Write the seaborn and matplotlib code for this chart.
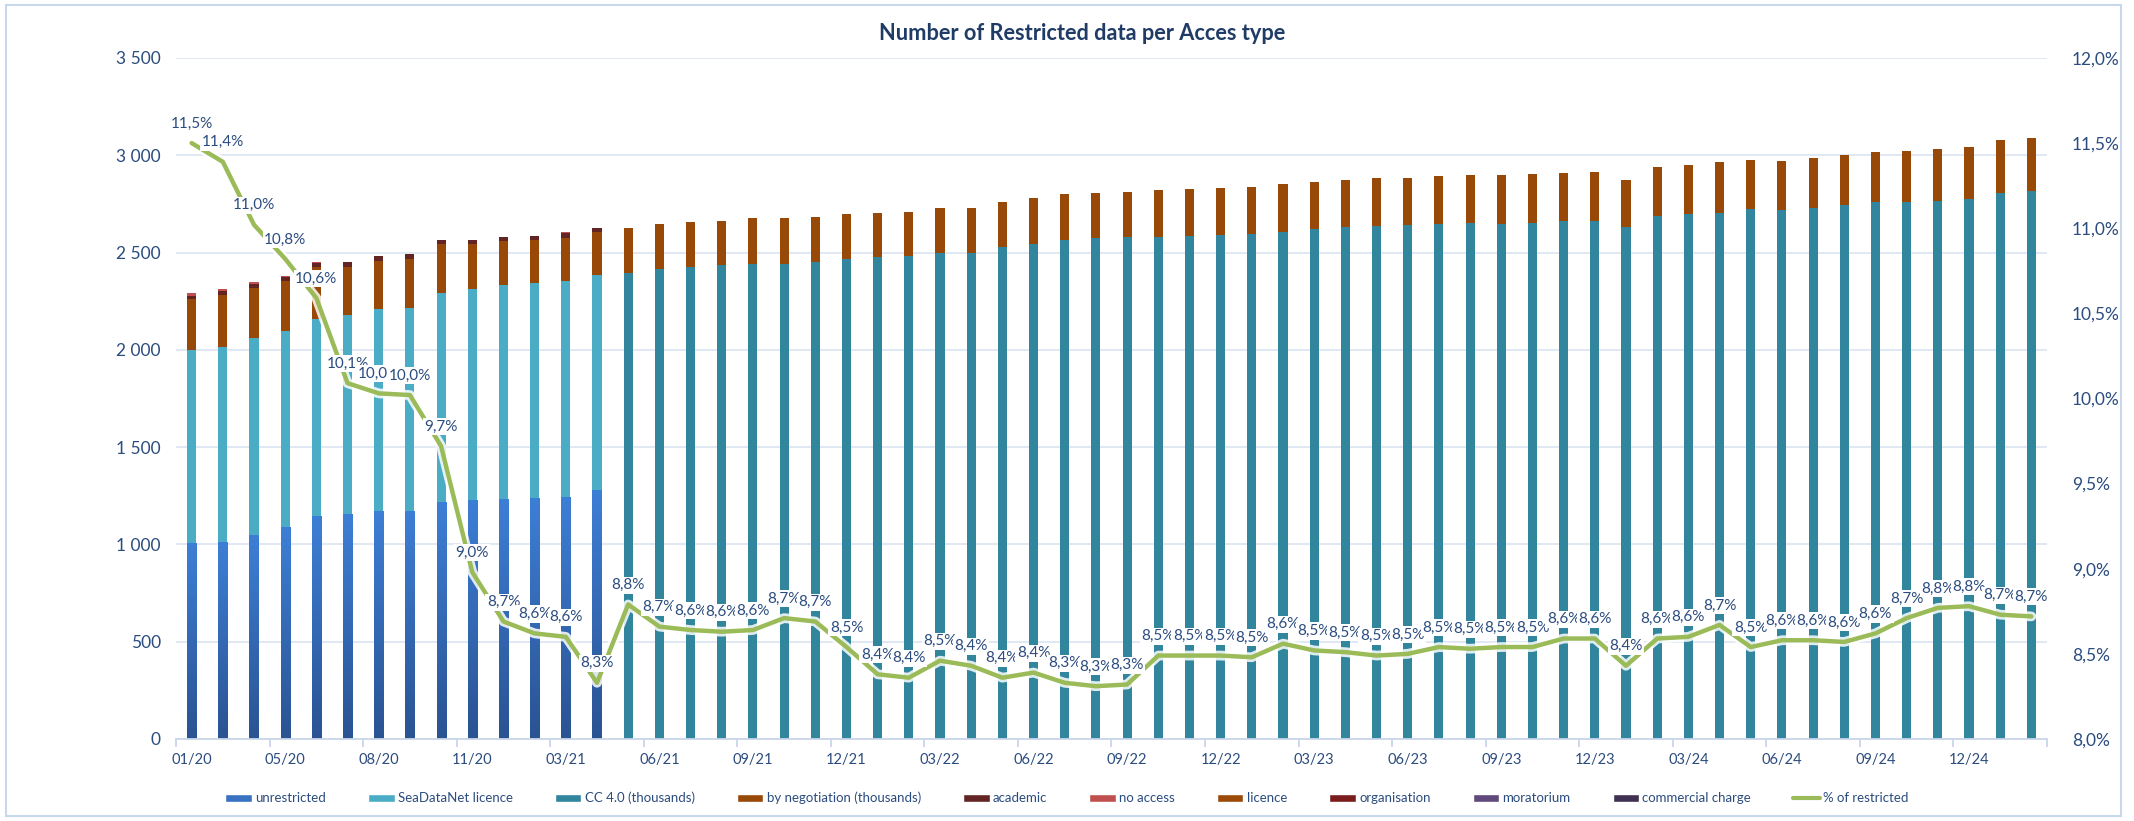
import matplotlib
matplotlib.use('Agg')
import matplotlib.pyplot as plt
import matplotlib.patheffects as pe
from matplotlib.colors import LinearSegmentedColormap
from matplotlib.patches import Patch, Rectangle
from matplotlib.lines import Line2D
from matplotlib.ticker import FuncFormatter, FixedLocator
import numpy as np
import seaborn as sns

sns.set_theme(style='white')
plt.rcParams['font.family'] = ['Lato', 'DejaVu Sans']

months = ["01/20", "02/20", "03/20", "05/20", "06/20", "07/20", "08/20", "09/20", "10/20", "11/20",
          "12/20", "02/21", "03/21", "04/21", "05/21", "06/21", "07/21", "08/21", "09/21", "10/21",
          "11/21", "12/21", "01/22", "02/22", "03/22", "04/22", "05/22", "06/22", "07/22", "08/22",
          "09/22", "10/22", "11/22", "12/22", "01/23", "02/23", "03/23", "04/23", "05/23", "06/23",
          "07/23", "08/23", "09/23", "10/23", "11/23", "12/23", "01/24", "02/24", "03/24", "04/24",
          "05/24", "06/24", "07/24", "08/24", "09/24", "10/24", "11/24", "12/24", "01/25", "02/25"]

# early months (SeaDataNet era), then CC 4.0 era
unrestricted = [1006, 1012, 1048, 1088, 1146, 1156, 1173, 1173, 1219, 1228, 1235, 1240, 1245, 1280] + [0] * 46
seadatanet = [993, 1004, 1014, 1010, 1011, 1023, 1035, 1043, 1071, 1084, 1098, 1105, 1108, 1104] + [0] * 46
cc40 = [0] * 14 + [2393, 2417, 2425, 2434, 2443, 2443, 2451, 2467, 2475, 2480, 2496, 2499, 2528, 2545,
                   2566, 2575, 2578, 2578, 2586, 2590, 2595, 2607, 2619, 2631, 2636, 2640, 2648, 2652,
                   2648, 2652, 2660, 2663, 2633, 2689, 2698, 2705, 2722, 2718, 2730, 2742, 2760, 2760,
                   2766, 2775, 2807, 2816]
negotiation = [260, 265, 254, 255, 270, 248, 248, 252, 252, 230, 226, 217, 223, 223,
               235, 231, 232, 230, 233, 233, 233, 231, 226, 228, 233, 230, 230, 233, 233, 231,
               233, 242, 242, 241, 240, 245, 245, 242, 245, 244, 245, 245, 249, 250, 249, 251,
               240, 252, 252, 258, 253, 252, 257, 257, 256, 262, 266, 267, 271, 271]
academic = [18, 20, 20, 20, 20, 22, 24, 24, 22, 22, 22, 22, 22, 20] + [0] * 46
no_access = [14, 12, 12, 8, 4, 0, 0, 0, 0, 0, 0, 0, 6, 0] + [0] * 46
licence = [0] * 60
organisation = [0] * 60
moratorium = [0] * 60
commercial = [0] * 60

pct_restricted = [11.50, 11.39, 11.02, 10.82, 10.59, 10.09, 10.03, 10.02, 9.72, 8.98,
                  8.69, 8.62, 8.60, 8.33, 8.79, 8.66, 8.64, 8.63, 8.64, 8.71,
                  8.69, 8.54, 8.38, 8.36, 8.46, 8.43, 8.36, 8.39, 8.33, 8.31,
                  8.32, 8.49, 8.49, 8.49, 8.48, 8.56, 8.52, 8.51, 8.49, 8.50,
                  8.54, 8.53, 8.54, 8.54, 8.59, 8.59, 8.43, 8.59, 8.60, 8.67,
                  8.54, 8.58, 8.58, 8.57, 8.62, 8.71, 8.77, 8.78, 8.73, 8.72]

series = [
    ("unrestricted", unrestricted, '#3A72C2'),
    ("SeaDataNet licence", seadatanet, '#4BACC6'),
    ("CC 4.0 (thousands)", cc40, '#31859C'),
    ("by negotiation (thousands)", negotiation, '#984807'),
    ("academic", academic, '#632523'),
    ("no access", no_access, '#C0504D'),
    ("licence", licence, '#9C4A08'),
    ("organisation", organisation, '#7A1C1C'),
    ("moratorium", moratorium, '#604A7B'),
    ("commercial charge", commercial, '#403152'),
]
line_color = '#9BBB59'
text_color = '#2B4C7E'

fig = plt.figure(figsize=(21.34, 8.21), dpi=100)
ax = fig.add_axes([0.0825, 0.0999, 0.8767, 0.8295])
x = np.arange(len(months))
bottom = np.zeros(len(months))
containers = []
for name, vals, col in series:
    vals = np.array(vals, dtype=float)
    c = ax.bar(x, vals, width=0.29, bottom=bottom, color=col, linewidth=0, zorder=2)
    containers.append(c)
    bottom += vals

# gradient fill of the unrestricted bars
grad = np.linspace(0, 1, 256).reshape(-1, 1)
cmap = LinearSegmentedColormap.from_list('unr', ['#2A5392', '#3D7FD6'])
for rect in containers[0]:
    h = rect.get_height()
    if h <= 0:
        continue
    x0 = rect.get_x()
    im = ax.imshow(grad, cmap=cmap, extent=[x0, x0 + rect.get_width(), 0, h],
                   origin='lower', aspect='auto', zorder=2.1)
    im.set_clip_path(rect)

ax.set_xlim(-0.5, len(months) - 0.5)
ax.set_ylim(0, 3500)
ax.set_yticks(np.arange(0, 3501, 500))
ax.yaxis.set_major_formatter(FuncFormatter(lambda v, p: f"{int(v):,}".replace(',', ' ')))
ax.yaxis.grid(True, color='#DCE6F2', lw=1.3)
ax.set_axisbelow(True)
for s in ['top', 'left', 'right']:
    ax.spines[s].set_visible(False)
ax.spines['bottom'].set_color('#C9D7EA')
ax.spines['bottom'].set_linewidth(1.3)

# x axis: tick marks between groups of 3, labels on every 3rd month
ax.xaxis.set_major_locator(FixedLocator(np.arange(-0.5, len(months), 3)))
ax.xaxis.set_minor_locator(FixedLocator(np.arange(0, len(months), 3)))
ax.set_xticklabels([], minor=False)
ax.set_xticklabels(months[::3], minor=True)
ax.tick_params(axis='x', which='major', length=6, color='#C9D7EA', width=1.3, bottom=True)
ax.tick_params(axis='x', which='minor', length=0, pad=10, labelsize=10.5, labelcolor=text_color)
ax.tick_params(axis='y', length=0, pad=11, labelsize=12.5, labelcolor=text_color)

ax2 = ax.twinx()
sns.lineplot(x=x, y=pct_restricted, ax=ax2, color=line_color, lw=3.2, zorder=4,
             solid_joinstyle='round', solid_capstyle='round',
             path_effects=[pe.Stroke(linewidth=7, foreground='white', alpha=0.85), pe.Normal()])
ax2.set_ylim(8, 12)
ax2.set_yticks(np.arange(8, 12.01, 0.5))
ax2.yaxis.set_major_formatter(FuncFormatter(lambda v, p: f"{v:.1f}%".replace('.', ',')))
ax2.tick_params(axis='y', length=0, pad=18, labelsize=12.5, labelcolor=text_color)
ax2.set_xlim(-0.5, len(months) - 0.5)
for s in ax2.spines.values():
    s.set_visible(False)
ax2.grid(False)

for i, v in enumerate(pct_restricted):
    ax2.annotate(f"{v:.1f}%".replace('.', ','), (i, v), xytext=(0, 14), textcoords='offset points',
                 ha='center', va='center', fontsize=11, color=text_color, zorder=6,
                 bbox=dict(boxstyle='square,pad=0.1', fc='white', ec='none'))

fig.text(0.507, 1 - 34 / 821, "Number of Restricted data per Acces type", ha='center', va='center',
         fontsize=15.7, weight='bold', color='#1F3B66')

handles = [Patch(facecolor=c) for _, _, c in series] + [Line2D([0], [0], color=line_color, lw=3)]
labels = [n for n, _, _ in series] + ["% of restricted"]
fig.legend(handles, labels, loc='center', bbox_to_anchor=(0.5, 0.028), ncol=11, frameon=False,
           fontsize=9.5, handlelength=2.0, handleheight=0.55, columnspacing=3.2, handletextpad=0.25,
           labelcolor=text_color)

fig.patches.append(Rectangle((0.003, 0.006), 0.991, 0.988, transform=fig.transFigure, fill=False,
                             ec='#C9D7EA', lw=1.5))

fig.savefig('out.png', dpi=100)
